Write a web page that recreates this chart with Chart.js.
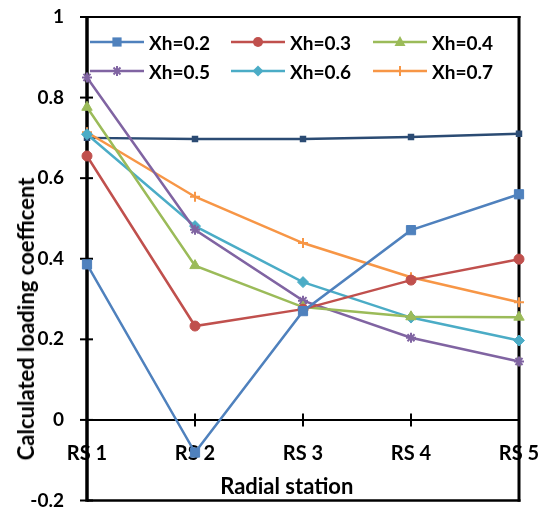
<!DOCTYPE html>
<html>
<head>
<meta charset="utf-8">
<script src="https://cdn.jsdelivr.net/npm/chart.js@4.4.1/dist/chart.umd.min.js"></script>
<style>
  html, body { margin: 0; padding: 0; background: #ffffff; }
  #wrap { position: relative; width: 545px; height: 508px; }
  #legend { position: absolute; left: 0; top: 0; width: 545px; height: 100px; pointer-events: none; }
  .item { position: absolute; height: 24px; display: flex; align-items: center;
          font-family: Lato, "Liberation Sans", sans-serif; font-weight: 700; font-size: 19px; color: #000; white-space: nowrap; }
  .item svg { margin-right: 5px; }
  .axis-title { position: absolute; font-family: Lato, "Liberation Sans", sans-serif; font-weight: 700; font-size: 22px;
                line-height: 1; color: #000; white-space: nowrap; }
  #ytitle { transform: translate(-50%, -50%) rotate(-90deg); }
  #xtitle { transform: translate(-50%, -50%); }
</style>
</head>
<body>
<div id="wrap">
  <canvas id="chart" width="545" height="508"></canvas>
  <div id="legend"></div>
  <div id="ytitle" class="axis-title"></div>
  <div id="xtitle" class="axis-title"></div>
</div>
<script>
// ---- data ----
const categories = ['RS 1', 'RS 2', 'RS 3', 'RS 4', 'RS 5'];
const seriesNames = ['Xh=0.2', 'Xh=0.3', 'Xh=0.4', 'Xh=0.5', 'Xh=0.6', 'Xh=0.7'];
const xh02 = [0.386, -0.081, 0.270, 0.471, 0.560];
const xh03 = [0.655, 0.233, 0.275, 0.347, 0.399];
const xh04 = [0.776, 0.383, 0.280, 0.256, 0.255];
const xh05 = [0.850, 0.472, 0.296, 0.204, 0.145];
const xh06 = [0.709, 0.481, 0.342, 0.254, 0.197];
const xh07 = [0.714, 0.554, 0.439, 0.354, 0.292];
const unlabeled = [0.700, 0.697, 0.697, 0.702, 0.710];
const yTickValues = [-0.2, 0, 0.2, 0.4, 0.6, 0.8, 1];
const yTickLabels = ['-0.2', '0', '0.2', '0.4', '0.6', '0.8', '1'];
const xTitle = 'Radial station';
const yTitle = 'Calculated loading coefficent';

// ---- styles ----
const colors = ['#4F81BD', '#C0504D', '#9BBB59', '#8064A2', '#4BACC6', '#F79646'];
const markers = ['rect', 'circle', 'triangle', 'star', 'rectRot', 'cross'];
const radii = [6.5, 5, 6, 5, 5.5, 5];
const FONT = 'Lato, "Liberation Sans", sans-serif';

const seriesValues = [xh02, xh03, xh04, xh05, xh06, xh07];
const datasets = seriesValues.map((vals, i) => ({
  label: seriesNames[i],
  data: vals,
  borderColor: colors[i],
  backgroundColor: colors[i],
  pointBackgroundColor: colors[i],
  pointBorderColor: colors[i],
  pointStyle: markers[i],
  pointRadius: radii[i],
  pointBorderWidth: (markers[i] === 'star' || markers[i] === 'cross') ? 2 : 1,
  borderWidth: 2.5,
  tension: 0,
  clip: false
}));
datasets.push({
  label: 'unlabeled',
  data: unlabeled,
  borderColor: '#2B4B73',
  backgroundColor: '#2B4B73',
  pointStyle: 'rect',
  pointRadius: 2.8,
  borderWidth: 2.5,
  tension: 0,
  clip: false,
  hideInLegend: true
});

const framePlugin = {
  id: 'frame',
  beforeDatasetsDraw(chart) {
    const { ctx, chartArea: a, scales: { x, y } } = chart;
    ctx.save();
    ctx.strokeStyle = '#000';
    ctx.lineCap = 'butt';
    ctx.lineWidth = 2;
    ctx.beginPath(); ctx.moveTo(a.left, a.top); ctx.lineTo(a.right + 1.5, a.top); ctx.stroke();
    ctx.lineWidth = 2.5;
    ctx.beginPath(); ctx.moveTo(a.left, a.bottom); ctx.lineTo(a.right + 1.5, a.bottom); ctx.stroke();
    ctx.lineWidth = 3;
    ctx.beginPath(); ctx.moveTo(a.right, a.top - 1); ctx.lineTo(a.right, a.bottom + 1.2); ctx.stroke();
    const y0 = y.getPixelForValue(0);
    ctx.lineWidth = 2;
    ctx.beginPath(); ctx.moveTo(a.left, y0); ctx.lineTo(a.right, y0); ctx.stroke();
    for (let i = 0; i < categories.length; i++) {
      const px = x.getPixelForValue(i);
      ctx.beginPath(); ctx.moveTo(px, y0 - 6.5); ctx.lineTo(px, y0 + 6.5); ctx.stroke();
    }
    yTickValues.forEach(v => {
      const py = y.getPixelForValue(v);
      ctx.beginPath(); ctx.moveTo(a.left - 7, py); ctx.lineTo(a.left + 6, py); ctx.stroke();
    });
    ctx.lineWidth = 3.5;
    ctx.beginPath(); ctx.moveTo(a.left, a.top - 1); ctx.lineTo(a.left, a.bottom + 1.2); ctx.stroke();
    ctx.restore();
  }
};

const chart = new Chart(document.getElementById('chart'), {
  type: 'line',
  data: { labels: categories, datasets },
  options: {
    responsive: false,
    animation: false,
    events: [],
    layout: { padding: { left: 0, right: 26, top: 17, bottom: 6 } },
    plugins: { legend: { display: false }, tooltip: { enabled: false } },
    scales: {
      x: {
        type: 'category',
        position: { y: 0 },
        offset: false,
        grid: { display: false, drawTicks: false },
        border: { display: false },
        ticks: { color: '#000', font: { family: FONT, size: 20, weight: 'bold' }, padding: 22, maxRotation: 0, autoSkip: false },
        title: { display: false, text: xTitle },
        afterFit(s) { s.height = 0; s.paddingLeft = 0; s.paddingRight = 0; }
      },
      y: {
        min: -0.2,
        max: 1,
        grid: { display: false, drawTicks: false },
        border: { display: false },
        afterBuildTicks(s) { s.ticks = yTickValues.map(v => ({ value: v })); },
        ticks: {
          color: '#000', font: { family: FONT, size: 19, weight: 'bold' }, padding: 23,
          callback: (v) => { const k = yTickValues.findIndex(t => Math.abs(t - v) < 1e-9); return k >= 0 ? yTickLabels[k] : ''; }
        },
        title: { display: false, text: yTitle },
        afterFit(s) { s.width = 87; s.paddingTop = 0; s.paddingBottom = 0; }
      }
    }
  },
  plugins: [framePlugin]
});

// ---- axis titles (HTML text, placed from the chart's scales) ----
const ca = chart.chartArea;
const yt = document.getElementById('ytitle');
yt.textContent = yTitle;
yt.style.left = '26px';
yt.style.top = (chart.scales.y.getPixelForValue(0.25)) + 'px';
const xt = document.getElementById('xtitle');
xt.textContent = xTitle;
xt.style.left = (chart.scales.x.getPixelForValue(1.85)) + 'px';
xt.style.top = (chart.scales.y.getPixelForValue(-0.163)) + 'px';

// ---- legend (HTML, built from the datasets) ----
function markerSvg(style, color) {
  const cx = 27, cy = 12;
  let m = '';
  if (style === 'rect') m = `<rect x="${cx - 4.6}" y="${cy - 4.6}" width="9.2" height="9.2" fill="${color}"/>`;
  else if (style === 'circle') m = `<circle cx="${cx}" cy="${cy}" r="5" fill="${color}"/>`;
  else if (style === 'triangle') m = `<polygon points="${cx},${cy - 6} ${cx + 5.5},${cy + 4} ${cx - 5.5},${cy + 4}" fill="${color}"/>`;
  else if (style === 'star') m = `<path d="M${cx - 3.5} ${cy - 3.5}L${cx + 3.5} ${cy + 3.5}M${cx + 3.5} ${cy - 3.5}L${cx - 3.5} ${cy + 3.5}M${cx} ${cy - 5}L${cx} ${cy + 5}M${cx - 5} ${cy}L${cx + 5} ${cy}" stroke="${color}" stroke-width="2"/>`;
  else if (style === 'rectRot') m = `<polygon points="${cx},${cy - 5.5} ${cx + 5.5},${cy} ${cx},${cy + 5.5} ${cx - 5.5},${cy}" fill="${color}"/>`;
  else if (style === 'cross') m = `<path d="M${cx} ${cy - 5}L${cx} ${cy + 5}" stroke="${color}" stroke-width="2"/>`;
  return `<svg width="54" height="24" viewBox="0 0 54 24"><line x1="0" y1="${cy}" x2="54" y2="${cy}" stroke="${color}" stroke-width="2.5"/>${m}</svg>`;
}
const legendEl = document.getElementById('legend');
const colLeft = [90, 231, 373];
const rowTop = [30, 59];
chart.data.datasets.forEach((ds, i) => {
  if (ds.hideInLegend) return;
  const div = document.createElement('div');
  div.className = 'item';
  div.style.left = colLeft[i % 3] + 'px';
  div.style.top = rowTop[Math.floor(i / 3)] + 'px';
  div.innerHTML = markerSvg(ds.pointStyle, ds.borderColor) + '<span>' + ds.label + '</span>';
  legendEl.appendChild(div);
});
</script>
</body>
</html>
